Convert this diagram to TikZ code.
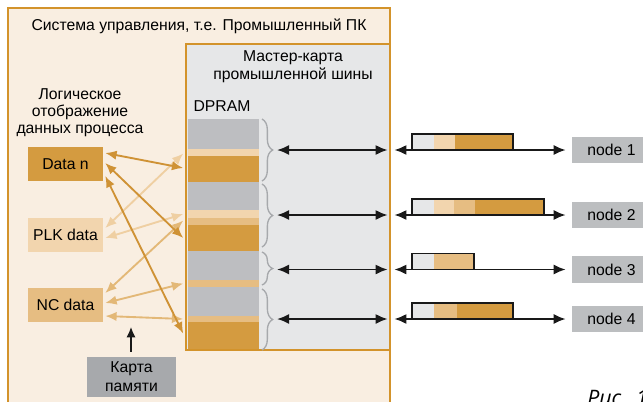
\documentclass[tikz,border=0pt]{standalone}
\usepackage{fontspec}
\setmainfont{Liberation Sans}
\newfontfamily\capfont{Open Sans}
\usetikzlibrary{arrows.meta,fit,calc,decorations.pathreplacing}
\definecolor{beige}{HTML}{F9EEE1}
\definecolor{frameor}{HTML}{D3932B}
\definecolor{mcard}{HTML}{E6E7E8}
\definecolor{segGray}{HTML}{BDBEC1}
\definecolor{segLight}{HTML}{F2D5AE}
\definecolor{segMed}{HTML}{E6BD82}
\definecolor{segOr}{HTML}{D49B40}
\definecolor{memGray}{HTML}{A7A9AC}
\definecolor{nodeGray}{HTML}{BCBEC0}
\definecolor{braceGray}{HTML}{A7A9AC}
\definecolor{arrO}{HTML}{CF9235}
\definecolor{arrL}{HTML}{EFCFA2}
\definecolor{arrM}{HTML}{E3B877}
\tikzset{
  frame/.style={draw=frameor, line width=1.5pt, inner sep=0pt},
  seg/.style={inner sep=0pt, draw=none},
  box/.style={inner sep=0pt, draw=none, align=center},
  carrow/.style={line width=1.4pt, {Latex[length=8.5pt,width=7pt]}-{Latex[length=8.5pt,width=7pt]}},
  barrow/.style={line width=1.4pt, black!90, {Latex[length=9pt,width=7.5pt]}-{Latex[length=9pt,width=7.5pt]}},
  brc/.style={draw=braceGray, line width=1pt, decorate, decoration={brace, amplitude=8pt}},
  pkt/.style={draw=black!90, line width=1.4pt, inner sep=0pt},
}
\begin{document}
\begin{tikzpicture}[x=0.75pt,y=-0.75pt, font=\fontsize{11.8}{14}\selectfont]
\useasboundingbox (0,0) rectangle (643,401);
\fill[white] (0,0) rectangle (643,401);
% outer frame
\node[frame, fill=beige, fit={(8,8)(390,430)}] (pc) {};
\node (title) at (199,26) {Система управления, т.е. Промышленный ПК};
% master card
\node[frame, fill=mcard, fit={(186,44)(390,350)}] (master) {};
\node[align=center, font=\fontsize{11.8}{13.7}\selectfont] (mtitle) at (293,67) {Мастер-карта\\промышленной шины};
\node (dpram) at (222,106) {DPRAM};
\node[align=center, font=\fontsize{11.8}{12.6}\selectfont] (logic) at (80,113) {Логическое\\отображение\\данных процесса};
% DPRAM segments
\node[seg, fill=segGray,  fit={(187.5,119)(259,149)}] (g1) {};
\node[seg, fill=segLight, fit={(187.5,149)(259,156)}] (l1) {};
\node[seg, fill=segOr,    fit={(187.5,156)(259,182)}] (o1) {};
\node[seg, fill=segGray,  fit={(187.5,182)(259,210)}] (g2) {};
\node[seg, fill=segLight, fit={(187.5,210)(259,218)}] (l2) {};
\node[seg, fill=segMed,   fit={(187.5,218)(259,225)}] (m2) {};
\node[seg, fill=segOr,    fit={(187.5,225)(259,251)}] (o2) {};
\node[seg, fill=segGray,  fit={(187.5,251)(259,280)}] (g3) {};
\node[seg, fill=segMed,   fit={(187.5,280)(259,287)}] (m3) {};
\node[seg, fill=segGray,  fit={(187.5,287)(259,316)}] (g4) {};
\node[seg, fill=segMed,   fit={(187.5,316)(259,322)}] (m4) {};
\node[seg, fill=segOr,    fit={(187.5,322)(259,349)}] (o4) {};
% braces
\draw[brc] (262,119) -- (262,181);
\draw[brc] (262,184) -- (262,247);
\draw[brc] (262,252) -- (262,285);
\draw[brc] (262,289) -- (262,350);
% node boxes
\node[box, fill=nodeGray, minimum width=59.25pt, minimum height=19.5pt] (n1) at (611.5,150) {node 1};
\node[box, fill=nodeGray, minimum width=59.25pt, minimum height=19.5pt] (n2) at (611.5,215) {node 2};
\node[box, fill=nodeGray, minimum width=59.25pt, minimum height=20.25pt] (n3) at (611.5,269.5) {node 3};
\node[box, fill=nodeGray, minimum width=59.25pt, minimum height=19.5pt] (n4) at (611.5,319) {node 4};
% brace tips
\coordinate (t1) at (277,150);
\coordinate (t2) at (277,215);
\coordinate (t3) at (277,269.5);
\coordinate (t4) at (277,319);
% packets
\fill[mcard]    (412,134) rectangle (434,150);
\fill[segLight] (434,134) rectangle (455,150);
\fill[segOr]    (455,134) rectangle (513,150);
\node[pkt, fit={(412,134)(513,150)}] (p1) {};
\fill[mcard]    (412,199) rectangle (434,215);
\fill[segLight] (434,199) rectangle (454,215);
\fill[segMed]   (454,199) rectangle (475,215);
\fill[segOr]    (475,199) rectangle (544,215);
\node[pkt, fit={(412,199)(544,215)}] (p2) {};
\fill[mcard]    (412,253.5) rectangle (434,269.5);
\fill[segMed]   (434,253.5) rectangle (474,269.5);
\node[pkt, fit={(412,253.5)(474,269.5)}] (p3) {};
\fill[mcard]    (412,303) rectangle (434,319);
\fill[segMed]   (434,303) rectangle (457,319);
\fill[segOr]    (457,303) rectangle (513,319);
\node[pkt, fit={(412,303)(513,319)}] (p4) {};
% black arrows
\foreach \i in {1,2,3,4}{
  \draw[barrow, shorten >=2.5pt] (t\i) -- (t\i -| master.east);
  \draw[barrow, shorten <=2.5pt, shorten >=4.5pt] (t\i -| master.east) -- (n\i.west);
}
% data boxes
\node[box, fill=segOr,    minimum width=56.25pt, minimum height=25.5pt] (datan) at (65.5,164) {Data n};
\node[box, fill=segLight, minimum width=56.25pt, minimum height=25.5pt] (plk) at (65.5,235) {PLK data};
\node[box, fill=segMed,   minimum width=56.25pt, minimum height=25.5pt] (nc) at (65.5,305) {NC data};
\node[box, fill=memGray, font=\fontsize{11.8}{14.2}\selectfont, minimum width=66.75pt, minimum height=30pt] (mem) at (131.5,377) {Карта\\памяти};
% coloured arrows
\draw[carrow, color=arrL] ($(plk.east)+(2,-7)$) -- ($(l1.west)+(-4,1)$);
\draw[carrow, color=arrL] ($(plk.east)+(2,3)$) -- ($(l2.west)+(-4,0)$);
\draw[carrow, color=arrM] ($(nc.east)+(2,-12)$) -- ($(m2.west)+(-4,-1)$);
\draw[carrow, color=arrM] ($(nc.east)+(2,-2)$) -- ($(m3.west)+(-4,0)$);
\draw[carrow, color=arrM] ($(nc.east)+(2,11)$) -- ($(m4.west)+(-4,0)$);
\draw[carrow, color=arrO] ($(datan.east)+(2,-11)$) -- ($(o1.west)+(-4,-1)$);
\draw[carrow, color=arrO] ($(datan.east)+(2,-1)$) -- ($(o2.west)+(-4,0)$);
\draw[carrow, color=arrO] ($(datan.east)+(2,12)$) -- ($(o4.west)+(-4,-2)$);
% memory map arrow
\draw[line width=1.5pt, black!90, -{Latex[length=8pt,width=7pt]}] ($(mem.north)+(-0.5,-5)$) -- ($(mem.north)+(-0.5,-30)$);
% figure caption (cut off at the edge, as in the reference)
\node[anchor=north west, inner sep=0pt, font=\capfont\itshape\fontsize{16}{18}\selectfont] (fig) at (587,390) {Рис.\hspace{0.45em}1};
\end{tikzpicture}
\end{document}
